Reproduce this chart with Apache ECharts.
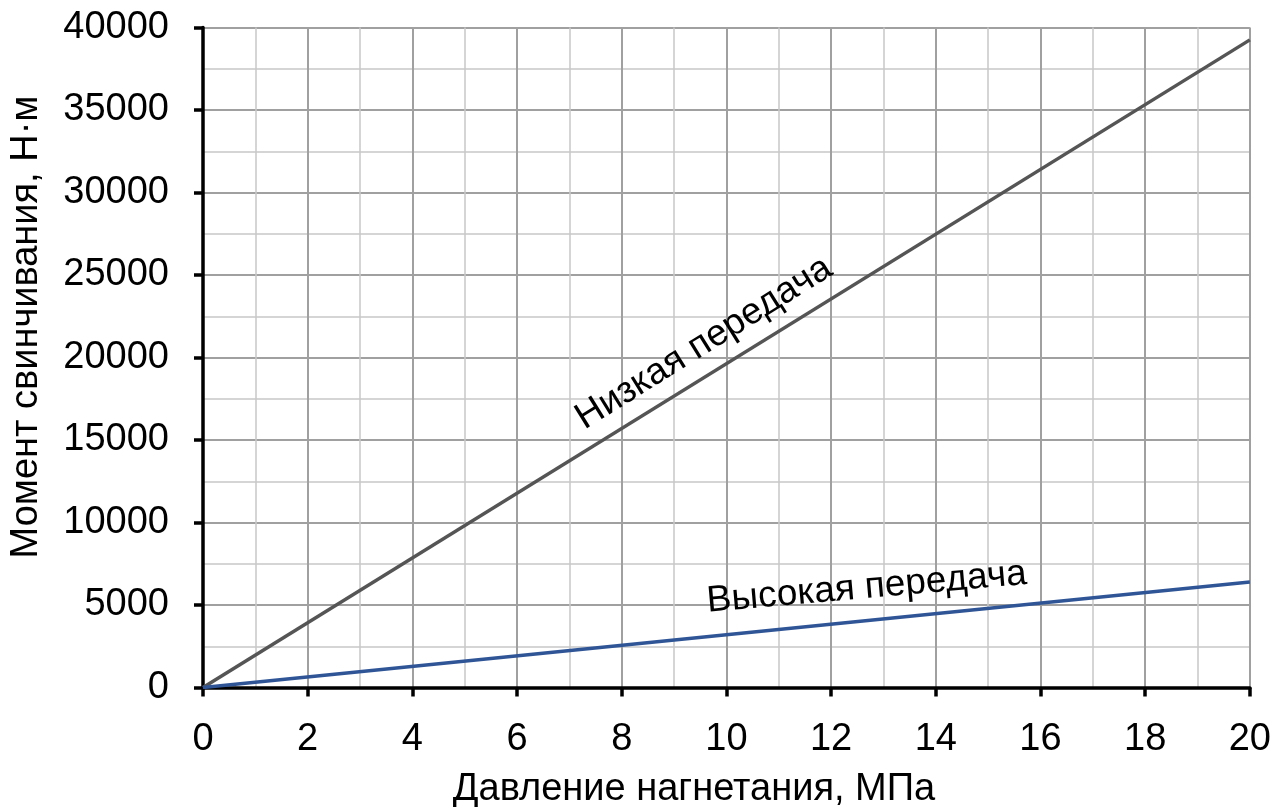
<!DOCTYPE html>
<html>
<head>
<meta charset="utf-8">
<script src="https://cdn.jsdelivr.net/npm/echarts@6/dist/echarts.min.js"></script>
<style>
html,body{margin:0;padding:0;background:#fff;}
#chart{width:1274px;height:807px;}
</style>
</head>
<body>
<div id="chart"></div>
<script>
// Data
const pressure = [0, 20];                 // МПа
const lowGear = [0, 39250];               // Низкая передача, Н·м
const highGear = [0, 6400];               // Высокая передача, Н·м
const xTitle = 'Давление нагнетания, МПа';
const yTitle = 'Момент свинчивания, Н·м';
const lowLabel = 'Низкая передача';
const highLabel = 'Высокая передача';

const FONT = '"Liberation Sans", Arial, sans-serif';
const chart = echarts.init(document.getElementById('chart'));

const option = {
  backgroundColor: '#fff',
  animation: false,
  grid: {left: 203, right: 22, top: 27.5, bottom: 119.5},
  xAxis: {
    type: 'value', min: 0, max: 20, interval: 2,
    minorTick: {show: false, splitNumber: 2},
    minorSplitLine: {show: true, lineStyle: {color: '#c8c8c8', width: 1.5}},
    splitLine: {show: true, lineStyle: {color: '#a0a0a0', width: 2}},
    axisLine: {show: true, onZero: false, lineStyle: {color: '#000', width: 3.5}},
    axisTick: {show: true, inside: false, length: 9, lineStyle: {color: '#000', width: 3.5}},
    axisLabel: {color: '#000', fontSize: 38, fontFamily: FONT, margin: 33,
                formatter: v => String(v)}
  },
  yAxis: {
    type: 'value', min: 0, max: 40000, interval: 5000,
    minorTick: {show: false, splitNumber: 2},
    minorSplitLine: {show: true, lineStyle: {color: '#c8c8c8', width: 1.5}},
    splitLine: {show: true, lineStyle: {color: '#a0a0a0', width: 2}},
    axisLine: {show: true, onZero: false, lineStyle: {color: '#000', width: 3.5}},
    axisTick: {show: true, inside: false, length: 9, lineStyle: {color: '#000', width: 3.5}},
    axisLabel: {color: '#000', fontSize: 38, fontFamily: FONT, margin: 34,
                formatter: v => String(v)}
  },
  series: [
    {
      name: lowLabel, type: 'line', showSymbol: false, z: 3,
      data: pressure.map((p, i) => [p, lowGear[i]]),
      lineStyle: {color: '#555555', width: 3.5}
    },
    {
      name: highLabel, type: 'line', showSymbol: false, z: 4,
      data: pressure.map((p, i) => [p, highGear[i]]),
      lineStyle: {color: '#2f5597', width: 3.5}
    }
  ]
};
chart.setOption(option);

// place the series captions along their lines
const lowPos = chart.convertToPixel({gridIndex: 0}, [9.57, 20870]);
const highPos = chart.convertToPixel({gridIndex: 0}, [12.68, 6050]);
chart.setOption({
  graphic: [
    {type: 'text', x: lowPos[0], y: lowPos[1], rotation: 32 * Math.PI / 180, z: 10,
     style: {text: lowLabel, fill: '#000', font: '37px ' + FONT, align: 'center', verticalAlign: 'middle'}},
    {type: 'text', x: highPos[0], y: highPos[1], rotation: 5 * Math.PI / 180, z: 10,
     style: {text: highLabel, fill: '#000', font: '37px ' + FONT, align: 'center', verticalAlign: 'middle'}},
    {type: 'text', x: 694, y: 790, z: 10,
     style: {text: xTitle, fill: '#000', font: '38px ' + FONT, align: 'center', verticalAlign: 'middle'}},
    {type: 'text', x: 27, y: 327, rotation: Math.PI / 2, z: 10,
     style: {text: yTitle, fill: '#000', font: '38px ' + FONT, align: 'center', verticalAlign: 'middle'}}
  ]
});
</script>
</body>
</html>
